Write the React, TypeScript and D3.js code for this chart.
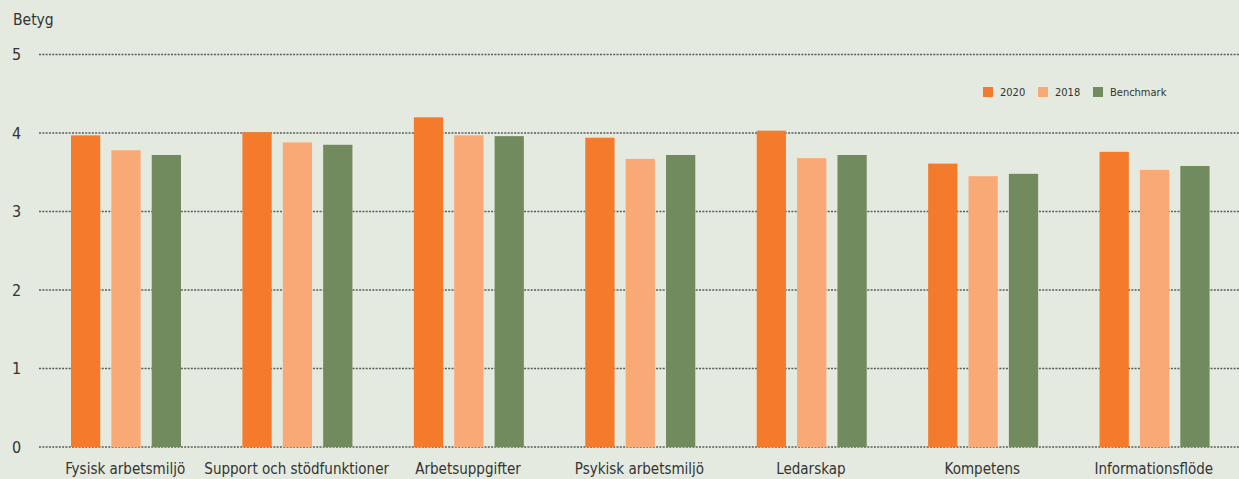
import React from "react";
import * as d3 from "d3";

const categories = [
  "Fysisk arbetsmiljö",
  "Support och stödfunktioner",
  "Arbetsuppgifter",
  "Psykisk arbetsmiljö",
  "Ledarskap",
  "Kompetens",
  "Informationsflöde",
];
const seriesNames = ["2020", "2018", "Benchmark"];
const values2020 = [3.97, 4.01, 4.2, 3.94, 4.03, 3.61, 3.76];
const values2018 = [3.78, 3.88, 3.97, 3.67, 3.68, 3.45, 3.53];
const valuesBenchmark = [3.72, 3.85, 3.96, 3.72, 3.72, 3.48, 3.58];
const yTicks = [0, 1, 2, 3, 4, 5];
const colors = ["#F47B2C", "#F9A975", "#728B5E"];

const W = 1239;
const H = 479;
const FONT = "'DejaVu Sans Condensed', 'Open Sans', sans-serif";

export default function App() {
  const series = [values2020, values2018, valuesBenchmark];
  const x = d3.scaleBand<string>().domain(categories).range([39, 1239]).paddingInner(0).paddingOuter(0);
  const inner = d3.scaleBand<string>().domain(seriesNames).range([32, 142]).paddingInner(11 / 40).paddingOuter(0);
  const y = d3.scaleLinear().domain([0, 5]).range([447, 54.5]);

  return (
    <svg width={W} height={H} style={{ position: "absolute", left: 0, top: 0, background: "#E4EAE0" }}>
      <rect x={0} y={0} width={W} height={H} fill="#E4EAE0" />
      <text x={13} y={25} fontFamily={FONT} fontSize={15.5} fill="#333">Betyg</text>
      {yTicks.map((t) => (
        <g key={t}>
          <line x1={39} x2={W} y1={y(t)} y2={y(t)} stroke="#5a5c58" strokeWidth={1.3} strokeDasharray="2 1.3" />
          <text x={12} y={y(t)} dy="0.36em" fontFamily={FONT} fontSize={16} fill="#333">{t}</text>
        </g>
      ))}
      {categories.map((c, i) => (
        <g key={c} transform={`translate(${x(c)},0)`}>
          {series.map((s, j) => (
            <rect
              key={j}
              x={inner(seriesNames[j])}
              y={y(s[i])}
              width={inner.bandwidth()}
              height={y(0) - y(s[i])}
              fill={colors[j]}
            />
          ))}
          <text x={x.bandwidth() / 2 + 0.5} y={474} textAnchor="middle" fontFamily={FONT} fontSize={15} fill="#333">{c}</text>
        </g>
      ))}
      {seriesNames.map((n, j) => {
        const lx = [983, 1038, 1093][j];
        return (
          <g key={n}>
            <rect x={lx} y={87} width={10} height={10} fill={colors[j]} />
            <text x={lx + 17} y={96} fontFamily={FONT} fontSize={11} fill="#333">{n}</text>
          </g>
        );
      })}
    </svg>
  );
}
